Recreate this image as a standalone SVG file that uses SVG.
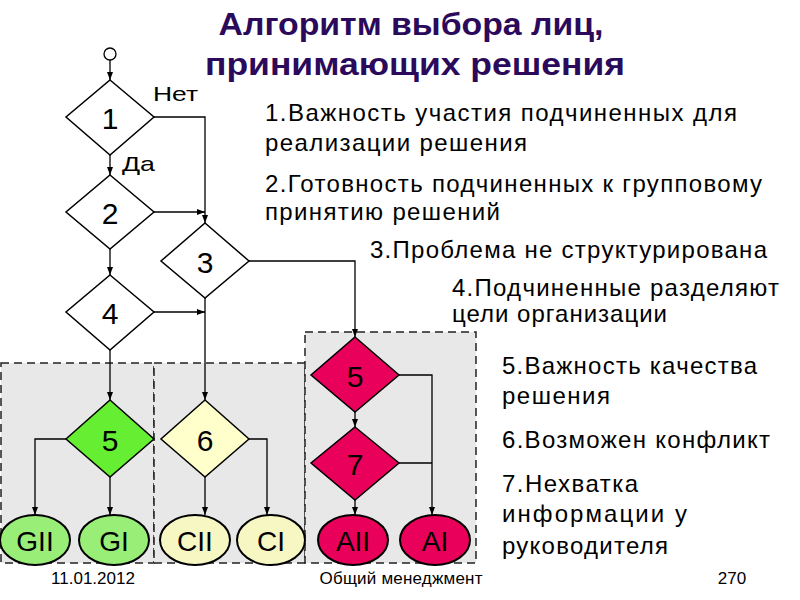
<svg xmlns="http://www.w3.org/2000/svg" width="800" height="600" viewBox="0 0 800 600">
<defs>
<marker id="arr" markerWidth="8" markerHeight="8" refX="8" refY="4" orient="auto" markerUnits="userSpaceOnUse">
<path d="M0,1 L8,4 L0,7 Z" fill="#000"/>
</marker>
<style>
.t{font-family:"Liberation Sans",Arial,sans-serif;fill:#000}
.title{font-family:"Liberation Sans",Arial,sans-serif;font-weight:bold;font-size:31px;fill:#2b0a5c}
.desc{font-size:24px}
.num{font-size:30px;text-anchor:middle;dominant-baseline:central}
.lbl{font-size:28px;text-anchor:middle;dominant-baseline:central}
.foot{font-size:17px;text-anchor:middle}
.box{fill:#e8e8e8;stroke:#222;stroke-width:1.5;stroke-dasharray:8,5}
.dw{fill:#fff;stroke:#000;stroke-width:1.5}
.dg{fill:#66ee33;stroke:#000;stroke-width:1.5}
.dy{fill:#ffffcc;stroke:#000;stroke-width:1.5}
.dp{fill:#e8005a;stroke:#000;stroke-width:1.5}
.eg{fill:#99ee77;stroke:#000;stroke-width:2}
.ey{fill:#f7f7c4;stroke:#000;stroke-width:2}
.ep{fill:#e8005a;stroke:#000;stroke-width:2}
.c{fill:none;stroke:#000;stroke-width:1.3}
.ca{fill:none;stroke:#000;stroke-width:1.3;marker-end:url(#arr)}
</style>
</defs>
<rect width="800" height="600" fill="#fff"/>

<g id="boxes">
<rect class="box" x="1" y="363" width="153" height="200"/>
<rect class="box" x="154" y="363" width="151" height="200"/>
<rect class="box" x="305" y="332" width="171" height="231"/>
</g>

<text class="title" x="411" y="35" text-anchor="middle" textLength="385" lengthAdjust="spacingAndGlyphs">Алгоритм выбора лиц,</text>
<text class="title" x="415" y="75" text-anchor="middle" textLength="420" lengthAdjust="spacingAndGlyphs">принимающих решения</text>

<g id="connectors">
<line class="ca" x1="110" y1="60" x2="110" y2="80"/>
<line class="ca" x1="110" y1="155" x2="110" y2="175"/>
<polyline class="ca" points="154,117 205,117 205,223"/>
<line class="ca" x1="154" y1="212" x2="205" y2="212"/>
<line class="ca" x1="110" y1="249" x2="110" y2="275"/>
<polyline class="ca" points="249,261 355,261 355,337"/>
<line class="ca" x1="154" y1="312" x2="205" y2="312"/>
<line class="ca" x1="205" y1="298" x2="205" y2="400"/>
<line class="ca" x1="110" y1="350" x2="110" y2="400"/>
<polyline class="ca" points="66,439 35,439 35,515"/>
<line class="ca" x1="110" y1="477" x2="110" y2="515"/>
<line class="ca" x1="205" y1="477" x2="205" y2="515"/>
<polyline class="ca" points="249,439 267,439 267,515"/>
<line class="ca" x1="355" y1="412" x2="355" y2="427"/>
<polyline class="ca" points="399,375 432,375 432,515"/>
<line class="c" x1="399" y1="463" x2="432" y2="463"/>
<line class="ca" x1="355" y1="500" x2="355" y2="515"/>
<text class="t" x="153" y="101" font-size="21" textLength="45" lengthAdjust="spacingAndGlyphs">Нет</text>
<text class="t" x="122" y="171" font-size="21" textLength="33" lengthAdjust="spacingAndGlyphs">Да</text>
</g>

<g id="start"><circle cx="110" cy="54" r="6" fill="#fff" stroke="#000" stroke-width="1.3"/></g>

<g id="d1"><polygon class="dw" points="110,80 154,117 110,155 66,117"/><text class="t num" x="110" y="118">1</text></g>
<g id="d2"><polygon class="dw" points="110,175 154,212 110,249 66,212"/><text class="t num" x="110" y="213">2</text></g>
<g id="d3"><polygon class="dw" points="205,223 249,261 205,298 161,261"/><text class="t num" x="205" y="262">3</text></g>
<g id="d4"><polygon class="dw" points="110,275 154,312 110,350 66,312"/><text class="t num" x="110" y="313">4</text></g>
<g id="d5g"><polygon class="dg" points="110,400 154,439 110,477 66,439"/><text class="t num" x="110" y="440">5</text></g>
<g id="d6"><polygon class="dy" points="205,400 249,439 205,477 161,439"/><text class="t num" x="205" y="440">6</text></g>
<g id="d5p"><polygon class="dp" points="355,337 399,375 355,412 311,375"/><text class="t num" x="355" y="376">5</text></g>
<g id="d7"><polygon class="dp" points="355,427 399,463 355,500 311,463"/><text class="t num" x="355" y="464">7</text></g>

<g id="gii"><ellipse class="eg" cx="35" cy="540" rx="35" ry="25"/><text class="t lbl" x="35" y="541">GII</text></g>
<g id="gi"><ellipse class="eg" cx="114" cy="540" rx="35" ry="25"/><text class="t lbl" x="114" y="541">GI</text></g>
<g id="cii"><ellipse class="ey" cx="195" cy="540" rx="35" ry="25"/><text class="t lbl" x="195" y="541">CII</text></g>
<g id="ci"><ellipse class="ey" cx="271" cy="540" rx="34" ry="25"/><text class="t lbl" x="271" y="541">CI</text></g>
<g id="aii"><ellipse class="ep" cx="353" cy="540" rx="35" ry="25"/><text class="t lbl" x="353" y="541">AII</text></g>
<g id="ai"><ellipse class="ep" cx="435" cy="540" rx="35" ry="25"/><text class="t lbl" x="435" y="541">AI</text></g>

<g id="legend">
<text class="t desc" x="265" y="121" textLength="472" lengthAdjust="spacing">1.Важность участия подчиненных для</text>
<text class="t desc" x="265" y="151" textLength="262" lengthAdjust="spacing">реализации решения</text>
<text class="t desc" x="265" y="192" textLength="497" lengthAdjust="spacing">2.Готовность подчиненных к групповому</text>
<text class="t desc" x="265" y="220" textLength="235" lengthAdjust="spacing">принятию решений</text>
<text class="t desc" x="370" y="258" textLength="397" lengthAdjust="spacing">3.Проблема не структурирована</text>
<text class="t desc" x="452" y="296" textLength="327" lengthAdjust="spacing">4.Подчиненные разделяют</text>
<text class="t desc" x="452" y="322" textLength="215" lengthAdjust="spacing">цели организации</text>
<text class="t desc" x="502" y="374" textLength="255" lengthAdjust="spacing">5.Важность качества</text>
<text class="t desc" x="502" y="404" textLength="108" lengthAdjust="spacing">решения</text>
<text class="t desc" x="502" y="448" textLength="268" lengthAdjust="spacing">6.Возможен конфликт</text>
<text class="t desc" x="502" y="492" textLength="136" lengthAdjust="spacing">7.Нехватка</text>
<text class="t desc" x="502" y="522" textLength="185" lengthAdjust="spacing">информации у</text>
<text class="t desc" x="502" y="554" textLength="166" lengthAdjust="spacing">руководителя</text>
</g>

<g id="footer">
<text class="t foot" x="93" y="584">11.01.2012</text>
<text class="t foot" x="401" y="584" textLength="163" lengthAdjust="spacing">Общий менеджмент</text>
<text class="t foot" x="732" y="584">270</text>
</g>
</svg>
